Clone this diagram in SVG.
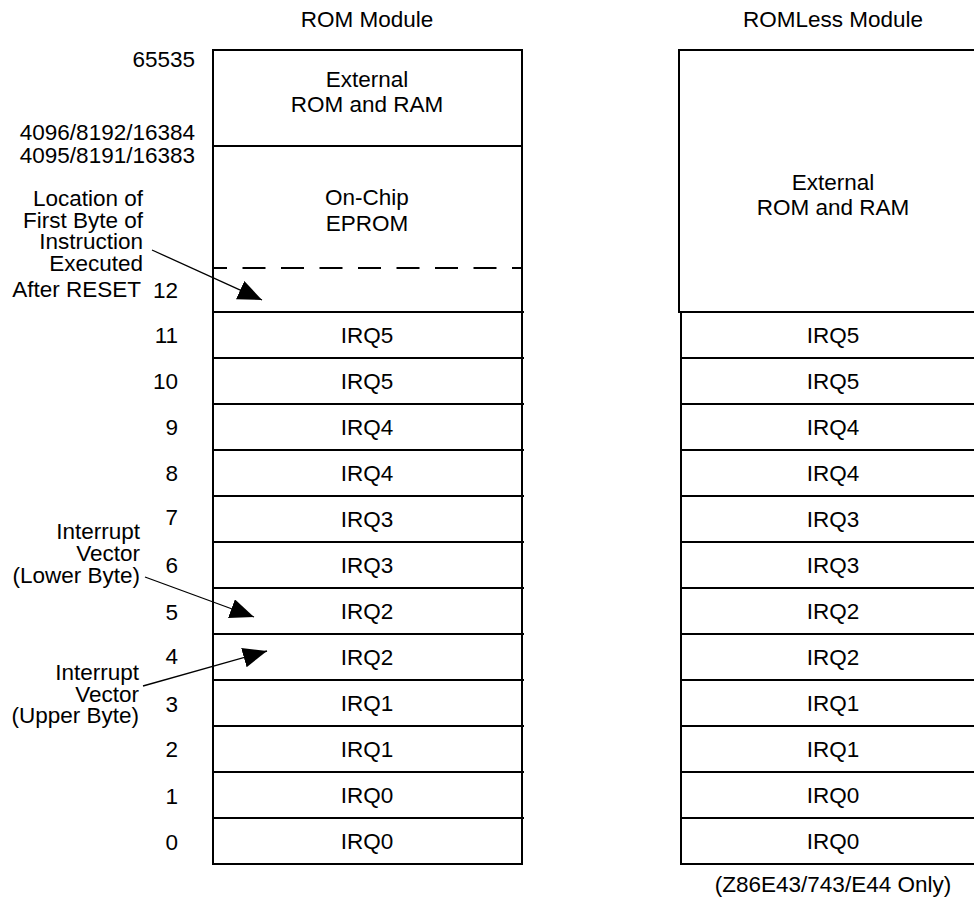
<svg xmlns="http://www.w3.org/2000/svg" width="974" height="905" viewBox="0 0 974 905">
<style>
text{font-family:"Liberation Sans",Arial,sans-serif;font-size:22.5px;fill:#000}
.c{text-anchor:middle}
.e{text-anchor:end}
.box{fill:none;stroke:#000;stroke-width:2}
.ln{stroke:#000;stroke-width:2}
.dash{stroke:#000;stroke-width:2;stroke-dasharray:23 15.5;stroke-dashoffset:9}
.arr{stroke:#000;stroke-width:1.3;fill:none;marker-end:url(#ah)}
</style>
<defs>
<marker id="ah" markerUnits="userSpaceOnUse" markerWidth="26" markerHeight="22" refX="24" refY="10" orient="auto">
<path d="M0,0 L24,10 L0,20 z" fill="#000"/>
</marker>
</defs>
<rect width="974" height="905" fill="#fff"/>
<g id="titles">
<text class="c" x="367" y="27">ROM Module</text>
<text class="c" x="833" y="27">ROMLess Module</text>
<text class="c" x="833" y="892">(Z86E43/743/E44 Only)</text>
</g>
<g id="rom-module">
<rect class="box" x="213" y="50" width="309" height="814"/>
<line class="ln" x1="213" y1="146" x2="522" y2="146"/>
<line class="dash" x1="213" y1="268" x2="522" y2="268"/>
<line class="ln" x1="213" y1="312" x2="524" y2="312"/>
<line class="ln" x1="213" y1="358" x2="524" y2="358"/>
<line class="ln" x1="213" y1="404" x2="524" y2="404"/>
<line class="ln" x1="213" y1="450" x2="524" y2="450"/>
<line class="ln" x1="213" y1="496" x2="524" y2="496"/>
<line class="ln" x1="213" y1="542" x2="524" y2="542"/>
<line class="ln" x1="213" y1="588" x2="524" y2="588"/>
<line class="ln" x1="213" y1="634" x2="524" y2="634"/>
<line class="ln" x1="213" y1="680" x2="524" y2="680"/>
<line class="ln" x1="213" y1="726" x2="524" y2="726"/>
<line class="ln" x1="213" y1="772" x2="524" y2="772"/>
<line class="ln" x1="213" y1="818" x2="524" y2="818"/>
<text class="c" x="367" y="87">External</text>
<text class="c" x="367" y="112">ROM and RAM</text>
<text class="c" x="367" y="205">On-Chip</text>
<text class="c" x="367" y="231">EPROM</text>
<text class="c" x="367" y="343">IRQ5</text>
<text class="c" x="367" y="389">IRQ5</text>
<text class="c" x="367" y="435">IRQ4</text>
<text class="c" x="367" y="481">IRQ4</text>
<text class="c" x="367" y="527">IRQ3</text>
<text class="c" x="367" y="573">IRQ3</text>
<text class="c" x="367" y="619">IRQ2</text>
<text class="c" x="367" y="665">IRQ2</text>
<text class="c" x="367" y="711">IRQ1</text>
<text class="c" x="367" y="757">IRQ1</text>
<text class="c" x="367" y="803">IRQ0</text>
<text class="c" x="367" y="849">IRQ0</text>
</g>
<g id="romless-module">
<rect class="box" x="679" y="50" width="311" height="262"/>
<line class="ln" x1="681" y1="312" x2="681" y2="864"/>
<line class="ln" x1="681" y1="358" x2="990" y2="358"/>
<line class="ln" x1="681" y1="404" x2="990" y2="404"/>
<line class="ln" x1="681" y1="450" x2="990" y2="450"/>
<line class="ln" x1="681" y1="496" x2="990" y2="496"/>
<line class="ln" x1="681" y1="542" x2="990" y2="542"/>
<line class="ln" x1="681" y1="588" x2="990" y2="588"/>
<line class="ln" x1="681" y1="634" x2="990" y2="634"/>
<line class="ln" x1="681" y1="680" x2="990" y2="680"/>
<line class="ln" x1="681" y1="726" x2="990" y2="726"/>
<line class="ln" x1="681" y1="772" x2="990" y2="772"/>
<line class="ln" x1="681" y1="818" x2="990" y2="818"/>
<line class="ln" x1="680" y1="864" x2="990" y2="864"/>
<text class="c" x="833" y="190">External</text>
<text class="c" x="833" y="215">ROM and RAM</text>
<text class="c" x="833" y="343">IRQ5</text>
<text class="c" x="833" y="389">IRQ5</text>
<text class="c" x="833" y="435">IRQ4</text>
<text class="c" x="833" y="481">IRQ4</text>
<text class="c" x="833" y="527">IRQ3</text>
<text class="c" x="833" y="573">IRQ3</text>
<text class="c" x="833" y="619">IRQ2</text>
<text class="c" x="833" y="665">IRQ2</text>
<text class="c" x="833" y="711">IRQ1</text>
<text class="c" x="833" y="757">IRQ1</text>
<text class="c" x="833" y="803">IRQ0</text>
<text class="c" x="833" y="849">IRQ0</text>
</g>
<g id="addresses">
<text class="e" x="195" y="67">65535</text>
<text class="e" x="195" y="140">4096/8192/16384</text>
<text class="e" x="195" y="163">4095/8191/16383</text>
<text class="e" x="178" y="298">12</text>
<text class="e" x="178" y="343">11</text>
<text class="e" x="178" y="389">10</text>
<text class="e" x="178" y="435">9</text>
<text class="e" x="178" y="481">8</text>
<text class="e" x="178" y="525">7</text>
<text class="e" x="178" y="573">6</text>
<text class="e" x="178" y="620">5</text>
<text class="e" x="178" y="664">4</text>
<text class="e" x="178" y="712">3</text>
<text class="e" x="178" y="757">2</text>
<text class="e" x="178" y="804">1</text>
<text class="e" x="178" y="850">0</text>
</g>
<g id="note-reset">
<text class="e" x="143" y="206">Location of</text>
<text class="e" x="143" y="228">First Byte of</text>
<text class="e" x="143" y="249">Instruction</text>
<text class="e" x="143" y="271">Executed</text>
<text class="e" x="141" y="297">After RESET</text>
</g>
<g id="note-lower">
<text class="e" x="140" y="539">Interrupt</text>
<text class="e" x="140" y="561">Vector</text>
<text class="e" x="140" y="583">(Lower Byte)</text>
</g>
<g id="note-upper">
<text class="e" x="139" y="680">Interrupt</text>
<text class="e" x="139" y="702">Vector</text>
<text class="e" x="139" y="723">(Upper Byte)</text>
</g>
<g id="connectors">
<line class="arr" x1="152" y1="250" x2="262" y2="300"/>
<line class="arr" x1="145" y1="577" x2="254" y2="617"/>
<line class="arr" x1="143" y1="686" x2="267" y2="651"/>
</g>
</svg>
